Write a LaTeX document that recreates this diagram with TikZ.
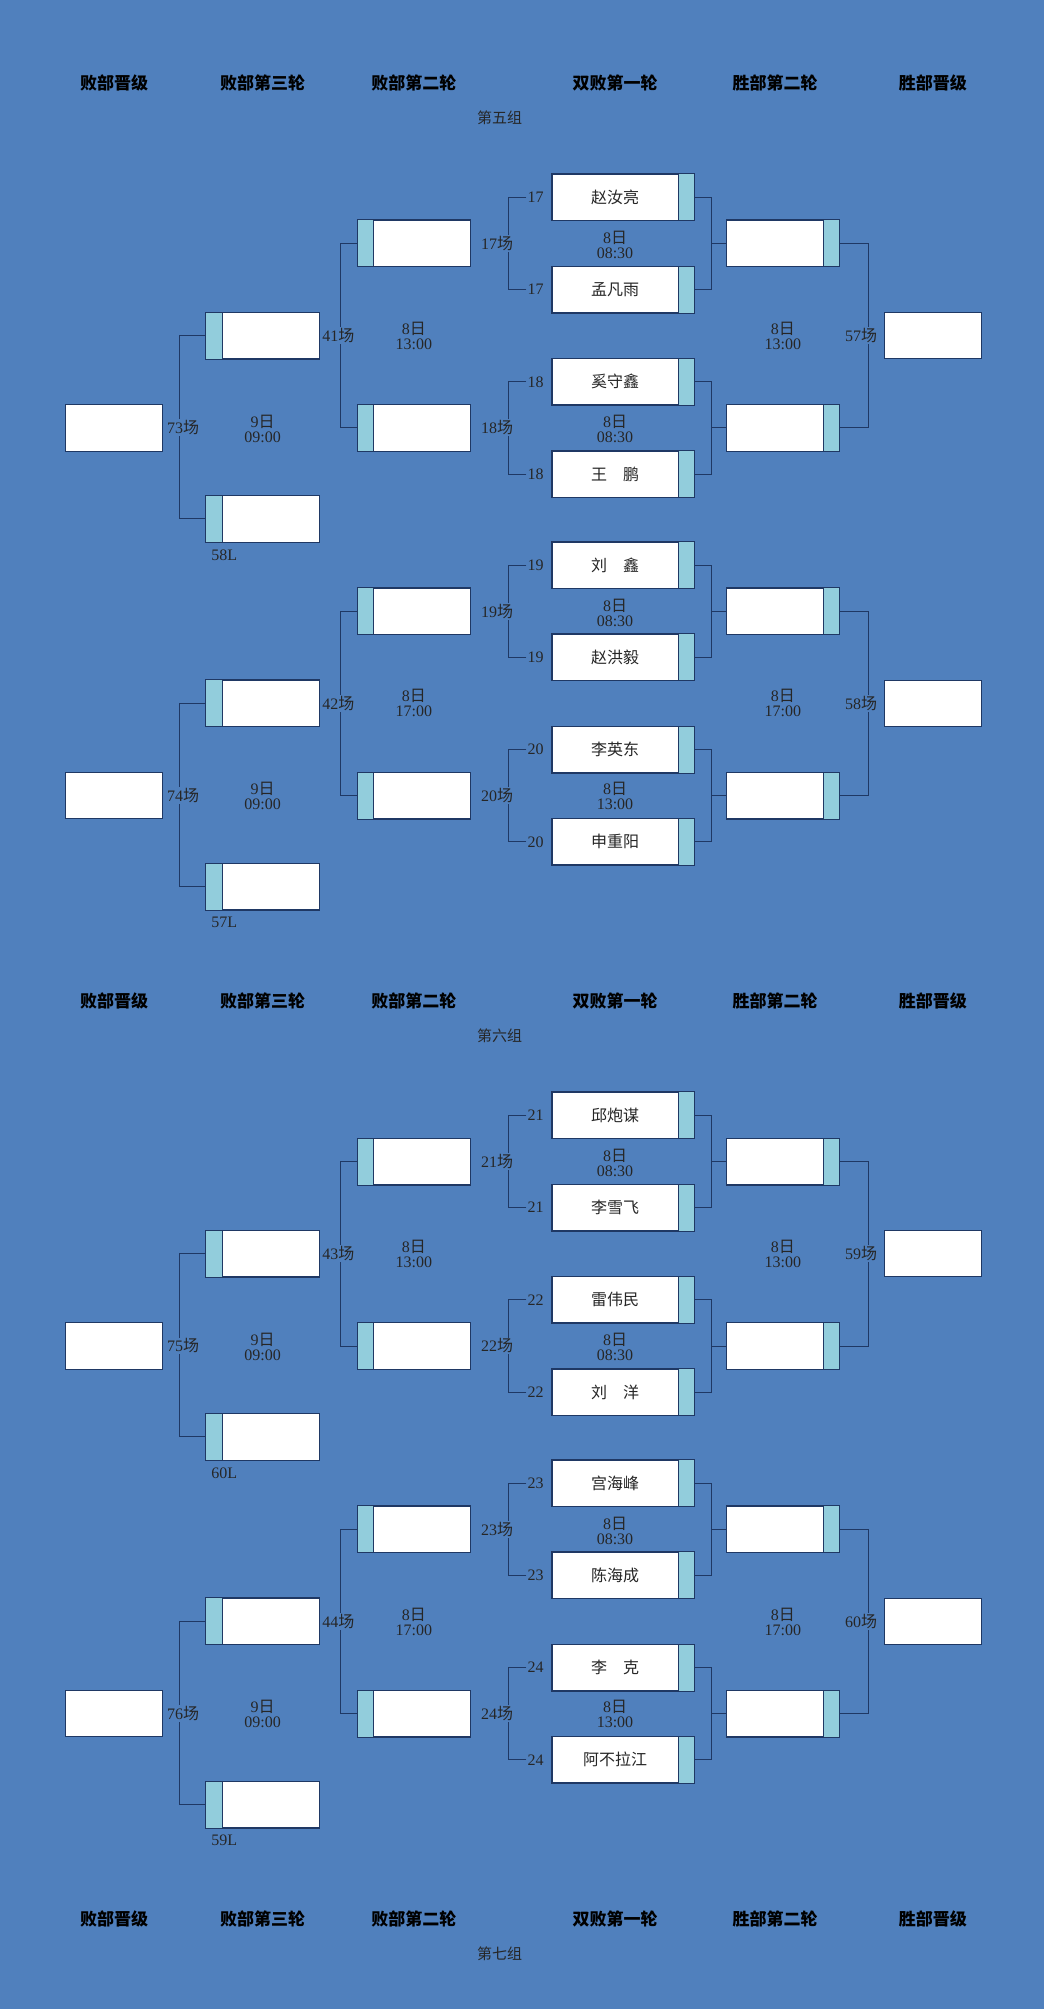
\documentclass[tikz,border=0pt]{standalone}
\usepackage{fontspec}
\setmainfont{Liberation Serif}
\newfontfamily\cjk{Noto Sans CJK SC}
\definecolor{bgc}{HTML}{5080BD}
\definecolor{barc}{HTML}{92CDDC}
\definecolor{lnc}{HTML}{1F3864}
\tikzset{
 bx/.style={draw=lnc,fill=white,line width=0.9pt,minimum height=46.1pt,inner sep=0pt},
 wA/.style={bx,minimum width=142.2pt},
 wB/.style={bx,minimum width=112.7pt},
 wC/.style={bx,minimum width=97.4pt},
 tx/.style={font=\fontsize{16}{18}\selectfont,inner sep=1pt,text=black!85},
 hd/.style={font=\cjk\bfseries\fontsize{17}{19}\selectfont,text=black},
 ln/.style={draw=lnc,line width=0.9pt},
}
\newcommand\rbar[1]{\fill[barc] ([xshift=-16.7pt]#1.north east) rectangle (#1.south east);
 \draw[ln] ([xshift=-16.7pt]#1.north east) -- ([xshift=-16.7pt]#1.south east);
 \draw[ln] (#1.north west) rectangle (#1.south east);}
\newcommand\lbar[1]{\fill[barc] (#1.north west) rectangle ([xshift=16.7pt]#1.south west);
 \draw[ln] ([xshift=16.7pt]#1.north west) -- ([xshift=16.7pt]#1.south west);
 \draw[ln] (#1.north west) rectangle (#1.south east);}
% half block: #1 offset, #2 tag
\newcommand\halfblock[2]{%
\begin{scope}[shift={(0,#1)}]
 % round 1
 \node[wA] (a#2) at (486.5,154) {}; \rbar{a#2}
 \node[wA] (b#2) at (486.5,226) {}; \rbar{b#2}
 \node[wA] (c#2) at (486.5,298) {}; \rbar{c#2}
 \node[wA] (d#2) at (486.5,370) {}; \rbar{d#2}
 \node[tx] (an#2) at (480,154) {\cjk\NA};
 \node[tx] (bn#2) at (480,226) {\cjk\NB};
 \node[tx] (cn#2) at (480,298) {\cjk\NC};
 \node[tx] (dn#2) at (480,370) {\cjk\ND};
 \node[tx] (ak#2) at (418,154) {\MA};
 \node[tx] (bk#2) at (418,226) {\MA};
 \node[tx] (ck#2) at (418,298) {\MB};
 \node[tx] (dk#2) at (418,370) {\MB};
 \node[tx] (lm1#2) at (388,190) {\MA\cjk{场}};
 \node[tx] (lm2#2) at (388,334) {\MB\cjk{场}};
 \draw[ln] (ak#2.west) -- (397,154) -- (lm1#2.north -| 397,0);
 \draw[ln] (bk#2.west) -- (397,226) -- (lm1#2.south -| 397,0);
 \draw[ln] (ck#2.west) -- (397,298) -- (lm2#2.north -| 397,0);
 \draw[ln] (dk#2.west) -- (397,370) -- (lm2#2.south -| 397,0);
 \node[tx,align=center] (dt1#2) at (480,191.5) {8\cjk{日}\\[-3pt]08:30};
 \node[tx,align=center] (dt2#2) at (480,334.5) {8\cjk{日}\\[-3pt]\TB};
 % winners round 2
 \node[wB] (e#2) at (611,190) {}; \rbar{e#2}
 \node[wB] (f#2) at (611,334) {}; \rbar{f#2}
 \draw[ln] (a#2.east) -- (555,154) -- (555,226) -- (b#2.east);
 \draw[ln] (555,190) -- (e#2.west);
 \draw[ln] (c#2.east) -- (555,298) -- (555,370) -- (d#2.east);
 \draw[ln] (555,334) -- (f#2.west);
 \node[wC] (g#2) at (728,262) {};
 \node[tx] (gl#2) at (672,262) {\WN\cjk{场}};
 \draw[ln] (e#2.east) -- (678,190) -- (gl#2.north -| 678,0);
 \draw[ln] (f#2.east) -- (678,334) -- (gl#2.south -| 678,0);
 \node[tx,align=center] (dw#2) at (611,262) {8\cjk{日}\\[-3pt]\WT};
 % losers round 2
 \node[wB] (h#2) at (323,190) {}; \lbar{h#2}
 \node[wB] (i#2) at (323,334) {}; \lbar{i#2}
 \node[wB] (j#2) at (205,262) {}; \lbar{j#2}
 \node[tx] (jl#2) at (264,262) {\LN\cjk{场}};
 \draw[ln] (h#2.west) -- (266,190) -- (jl#2.north -| 266,0);
 \draw[ln] (i#2.west) -- (266,334) -- (jl#2.south -| 266,0);
 \node[tx,align=center] (dl#2) at (323,262) {8\cjk{日}\\[-3pt]\LT};
 % losers round 3
 \node[wB] (k#2) at (205,405) {}; \lbar{k#2}
 \node[tx] (kl#2) at (175,433) {\KL};
 \node[wC] (m#2) at (89,334) {};
 \node[tx] (ml#2) at (143,334) {\FN\cjk{场}};
 \draw[ln] (j#2.west) -- (140,262) -- (ml#2.north -| 140,0);
 \draw[ln] (k#2.west) -- (140,405) -- (ml#2.south -| 140,0);
 \node[tx,align=center] (df#2) at (205,334.5) {9\cjk{日}\\[-3pt]09:00};
\end{scope}}
\newcommand\heads[3]{%
\begin{scope}[shift={(0,#1)}]
 \node[hd] (h1#3) at (89,65) {败部晋级};
 \node[hd] (h2#3) at (205,65) {败部第三轮};
 \node[hd] (h3#3) at (323,65) {败部第二轮};
 \node[hd] (h4#3) at (480,65) {双败第一轮};
 \node[hd] (h5#3) at (605,65) {胜部第二轮};
 \node[hd] (h6#3) at (728,65) {胜部晋级};
 \node[tx,font=\cjk\fontsize{15}{17}\selectfont] (gg#3) at (390,92) {#2};
\end{scope}}
\begin{document}
\begin{tikzpicture}[x=1.281pt,y=-1.281pt]
\fill[bgc] (0,0) rectangle (815,1568);
\useasboundingbox (0,0) rectangle (815,1568);
\heads{0}{第五组}{A}
\heads{716.5}{第六组}{B}
\heads{1433}{第七组}{C}
\def\MA{17}\def\MB{18}\def\NA{赵汝亮}\def\NB{孟凡雨}\def\NC{奚守鑫}\def\ND{王\quad 鹏}
\def\TB{08:30}\def\WN{57}\def\WT{13:00}\def\LN{41}\def\LT{13:00}\def\FN{73}\def\KL{58L}
\halfblock{0}{p}
\def\MA{19}\def\MB{20}\def\NA{刘\quad 鑫}\def\NB{赵洪毅}\def\NC{李英东}\def\ND{申重阳}
\def\TB{13:00}\def\WN{58}\def\WT{17:00}\def\LN{42}\def\LT{17:00}\def\FN{74}\def\KL{57L}
\halfblock{287}{q}
\def\MA{21}\def\MB{22}\def\NA{邱炮谋}\def\NB{李雪飞}\def\NC{雷伟民}\def\ND{刘\quad 洋}
\def\TB{08:30}\def\WN{59}\def\WT{13:00}\def\LN{43}\def\LT{13:00}\def\FN{75}\def\KL{60L}
\halfblock{716.5}{r}
\def\MA{23}\def\MB{24}\def\NA{宫海峰}\def\NB{陈海成}\def\NC{李\quad 克}\def\ND{阿不拉江}
\def\TB{13:00}\def\WN{60}\def\WT{17:00}\def\LN{44}\def\LT{17:00}\def\FN{76}\def\KL{59L}
\halfblock{1003.5}{s}
\end{tikzpicture}
\end{document}
